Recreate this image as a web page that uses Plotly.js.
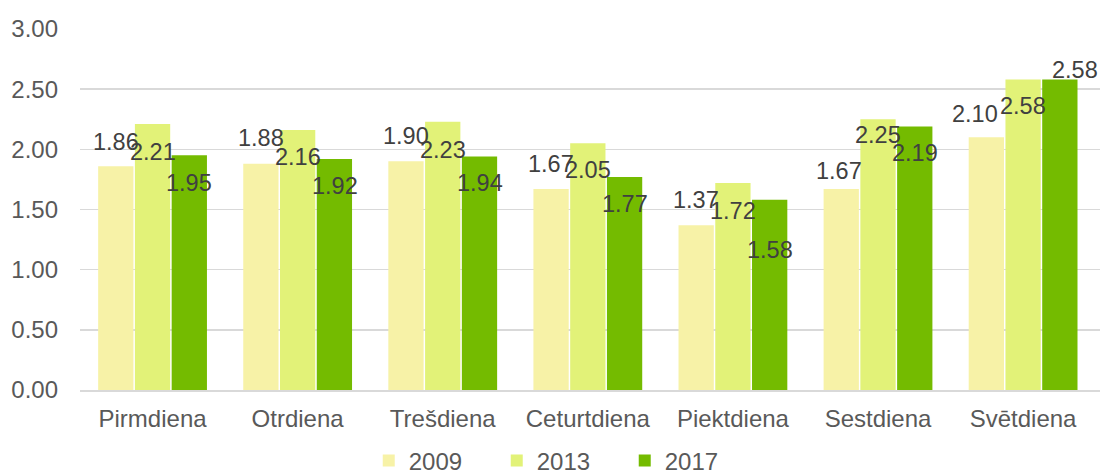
<!DOCTYPE html>
<html>
<head>
<meta charset="utf-8">
<script src="https://cdn.plot.ly/plotly-3.0.1.min.js"></script>
<style>html,body{margin:0;padding:0;background:#fff;}#chart{width:1106px;height:476px;}</style>
</head>
<body>
<div id="chart"></div>
<script>
const categories = ["Pirmdiena", "Otrdiena", "Trešdiena", "Ceturtdiena", "Piektdiena", "Sestdiena", "Svētdiena"];
const seriesNames = ["2009", "2013", "2017"];
const values2009 = [1.86, 1.88, 1.90, 1.67, 1.37, 1.67, 2.10];
const values2013 = [2.21, 2.16, 2.23, 2.05, 1.72, 2.25, 2.58];
const values2017 = [1.95, 1.92, 1.94, 1.77, 1.58, 2.19, 2.58];
const yTickValues = [0, 0.5, 1, 1.5, 2, 2.5, 3];

// label placement (pixel offsets from bar top, as in the original)
const labelYShift = [
  [24, 26, 25, 25, 25, 18, 23],
  [-28, -27, -28, -27, -28, -16, -26],
  [-28, -27, -26, -27, -50, -27, 10]
];
const labelXExtra = [
  [0, 0, 0, 0, 0, -2, -11],
  [0, 0, 0, 0, 0, 0, 0],
  [0, 0, 0, 0, 0, 0, 15]
];

const colors = ["#F7F2A7", "#E2F278", "#74BB00"];
const allValues = [values2009, values2013, values2017];
const font = "Liberation Sans, Arial, sans-serif";

const traces = allValues.map((vals, i) => ({
  type: "bar",
  name: seriesNames[i],
  x: categories,
  y: vals,
  marker: {color: colors[i], line: {width: 0}},
  hoverinfo: "x+y+name"
}));

const slot = 36.9; // px offset between grouped bars
const annotations = [];
allValues.forEach((vals, i) => {
  vals.forEach((v, j) => {
    annotations.push({
      x: categories[j], y: v, xref: "x", yref: "y",
      text: v.toFixed(2), showarrow: false,
      xanchor: "center", yanchor: "middle",
      xshift: (i - 1) * slot + labelXExtra[i][j],
      yshift: labelYShift[i][j],
      font: {family: font, size: 23.5, color: "#404040"}
    });
  });
});

const layout = {
  width: 1106, height: 476,
  margin: {l: 80, r: 6, t: 29, b: 86, autoexpand: false},
  paper_bgcolor: "#fff", plot_bgcolor: "#fff",
  barmode: "group", bargap: 0.24, bargroupgap: 0.04,
  showlegend: true,
  legend: {
    orientation: "h", xref: "container", x: 0.507, xanchor: "center",
    yref: "container", y: 0.079, yanchor: "top",
    font: {family: font, size: 24, color: "#595959"},
    entrywidth: 83, entrywidthmode: "pixels", itemwidth: 30,
    traceorder: "normal"
  },
  xaxis: {
    type: "category", showgrid: false, showline: true, linecolor: "#D9D9D9", linewidth: 1.5,
    ticks: "", ticklabelstandoff: 7,
    tickfont: {family: font, size: 24, color: "#595959"}
  },
  yaxis: {
    range: [0, 3], tickvals: yTickValues, tickformat: ".2f",
    showgrid: true, gridcolor: "#D9D9D9", gridwidth: 1.5,
    zeroline: false, showline: false, ticks: "", ticklabelstandoff: 21,
    tickfont: {family: font, size: 24, color: "#595959"}
  },
  annotations: annotations
};

Plotly.newPlot("chart", traces, layout, {displayModeBar: false, staticPlot: true});
</script>
</body>
</html>
